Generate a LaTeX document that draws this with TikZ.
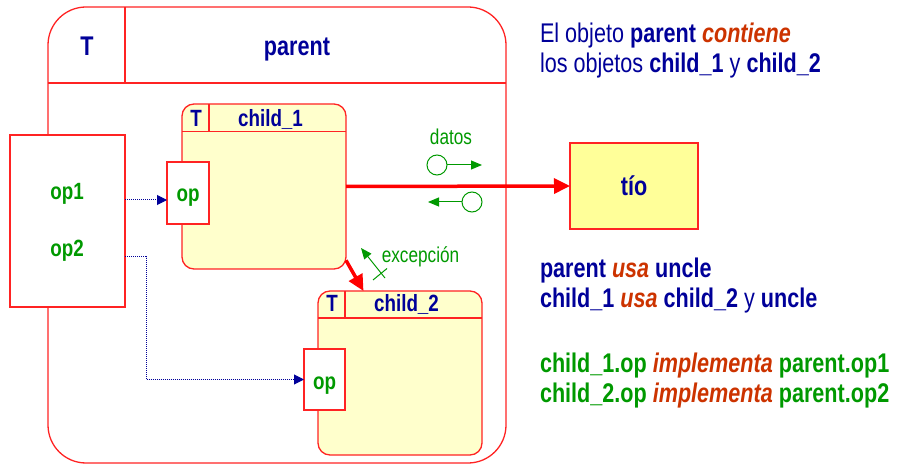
\documentclass[tikz,border=0pt]{standalone}
\usepackage{fontspec}
\setmainfont[FakeStretch=0.8]{Liberation Sans}
\usetikzlibrary{arrows.meta,calc}
\definecolor{ink}{RGB}{0,0,153}
\definecolor{leaf}{RGB}{0,153,0}
\definecolor{rust}{RGB}{204,51,0}
\definecolor{edge}{RGB}{255,35,35}
\definecolor{paleyellow}{RGB}{255,255,204}
\definecolor{lemon}{RGB}{255,255,153}

\begin{document}
\begin{tikzpicture}[x=1pt,y=-1pt,
  every node/.style={inner sep=0pt,outer sep=0pt},
  frame/.style={draw=edge,line width=1.3pt},
  big/.style={font=\fontsize{27}{30}\selectfont},
  bigbold/.style={font=\fontsize{27}{30}\selectfont\bfseries},
  mid/.style={font=\fontsize{23.5}{26}\selectfont\bfseries},
  small/.style={font=\fontsize{21.5}{24}\selectfont},
  capsule/.style={frame,fill=paleyellow,rounded corners=12pt,anchor=north west,
    minimum width=164pt,minimum height=165pt},
  portbox/.style={frame,fill=white,anchor=north west,minimum width=42pt,minimum height=62pt},
  usearrow/.style={draw=red,line width=3.5pt,-{Triangle[length=16pt,width=15pt]}},
  linkarrow/.style={draw=ink,line width=1pt,dash pattern=on 1pt off 1pt,
    -{Triangle[length=10pt,width=10pt]}},
  flowarrow/.style={draw=leaf,line width=1pt,-{Triangle[length=11pt,width=9pt]}},
  flowdot/.style={circle,draw=leaf,line width=1pt,fill=white,minimum size=20pt}
]
\useasboundingbox (0,0) rectangle (900,465);

% enclosing object
\node[frame,rounded corners=38pt,anchor=north west,
  minimum width=458pt,minimum height=456pt] (parent) at (48,7) {};
\draw[frame] (48,83) -- (506,83);
\draw[frame] (125,7) -- (125,83);
\node[bigbold,text=ink,anchor=base] (parentT) at (87,56) {T};
\node[bigbold,text=ink,anchor=base] (parentname) at (297,56) {parent};

% provided interface
\node[frame,fill=white,anchor=north west,minimum width=115pt,minimum height=172pt] (iface) at (10,135) {};
\node[mid,text=leaf,anchor=base] (op1) at (67,200) {op1};
\node[mid,text=leaf,anchor=base] (op2) at (67,257) {op2};

% first child
\node[capsule] (child1) at (182,104) {};
\draw[frame] (182,131.5) -- (346,131.5);
\draw[frame] (209,104) -- (209,131.5);
\node[mid,text=ink,anchor=base] (child1T) at (196,127) {T};
\node[mid,text=ink,anchor=base] (child1name) at (270.5,127) {child\_1};
\node[portbox] (c1op) at (167,162) {};
\node[mid,text=leaf,anchor=base] (c1opl) at (188,202) {op};

% second child
\node[capsule,minimum height=164pt] (child2) at (318,291) {};
\draw[frame] (318,318) -- (482,318);
\draw[frame] (345,291) -- (345,318);
\node[mid,text=ink,anchor=base] (child2T) at (332,312) {T};
\node[mid,text=ink,anchor=base] (child2name) at (406.5,312) {child\_2};
\node[portbox,minimum width=41pt,minimum height=61pt] (c2op) at (304,349) {};
\node[mid,text=leaf,anchor=base] (c2opl) at (324.5,389) {op};

% used object
\node[frame,fill=lemon,anchor=north west,minimum width=128pt,minimum height=86pt] (tio) at (570,143) {};
\node[bigbold,text=ink,anchor=base] (tiolabel) at (634,196) {tío};

% delegation links
\draw[linkarrow] (op1.base -| iface.east) -- (op1.base -| c1op.west);
\draw[linkarrow] (op2.base -| iface.east) -- ++(21,0) |- (c2op.west);

% use relations
\draw[usearrow] (child1.east) -- (tio.west);
\draw[usearrow] (child1.-42) -- (child2.114);

% data couples
\node[small,text=leaf,anchor=base] (datos) at (451,145) {datos};
\node[flowdot] (d1) at (437,165) {};
\coordinate (d1end) at (482,165);
\draw[flowarrow] (d1.east) -- (d1end);
\node[flowdot] (d2) at (472,202) {};
\coordinate (d2end) at (428,202);
\draw[flowarrow] (d2.west) -- (d2end);

% exception flag
\coordinate (extail) at (385,278);
\coordinate (exhead) at (361,248);
\coordinate (excutA) at (373,280);
\coordinate (excutB) at (387,268.5);
\draw[flowarrow] (extail) -- (exhead);
\draw[leaf,line width=1pt] (excutA) -- (excutB);
\node[small,text=leaf,anchor=base] (exc) at (420.5,262) {excepción};

% notes
\node[big,text=ink,anchor=base west] (note1) at (540,43)
  {El objeto \textbf{parent} {\bfseries\itshape\color{rust}contiene}};
\node[big,text=ink,anchor=base west] (note2) at (540,73)
  {los objetos \textbf{child\_1} y \textbf{child\_2}};
\node[big,text=ink,anchor=base west] (note3) at (540,278)
  {\textbf{parent {\itshape\color{rust}usa} uncle}};
\node[big,text=ink,anchor=base west] (note4) at (540,308)
  {\textbf{child\_1 {\itshape\color{rust}usa} child\_2} y \textbf{uncle}};
\node[big,text=leaf,anchor=base west] (note5) at (540,372)
  {\textbf{child\_1.op {\itshape\color{rust}implementa} parent.op1}};
\node[big,text=leaf,anchor=base west] (note6) at (540,402)
  {\textbf{child\_2.op {\itshape\color{rust}implementa} parent.op2}};
\end{tikzpicture}
\end{document}
